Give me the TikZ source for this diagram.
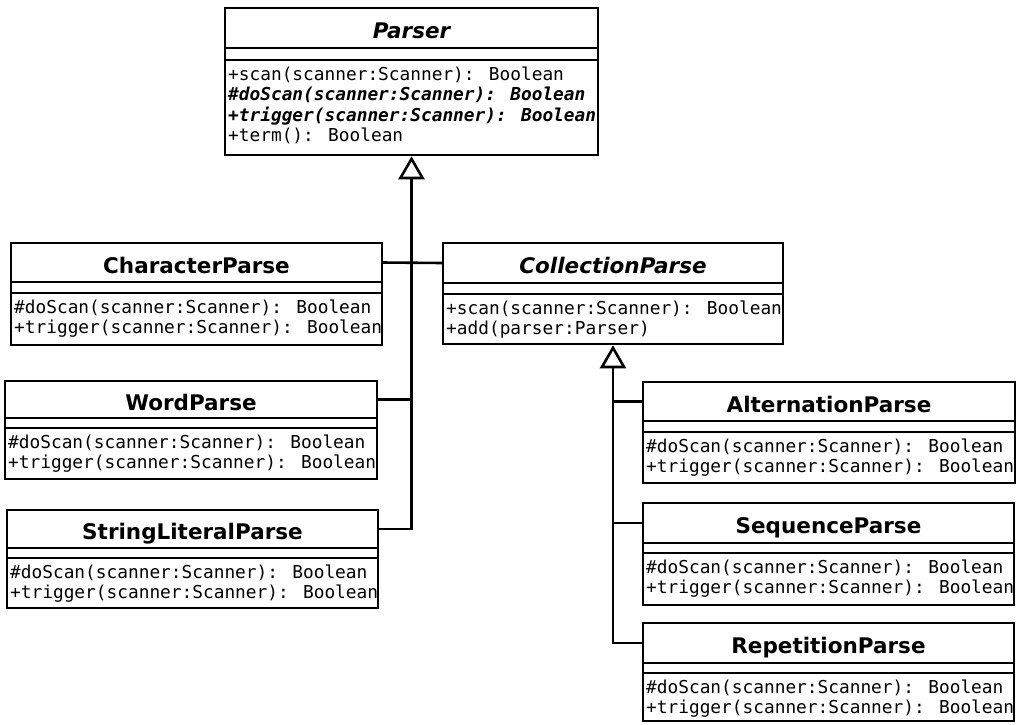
\documentclass[tikz,border=0pt]{standalone}
\usepackage{fontspec}
\usetikzlibrary{arrows.meta}
\newfontfamily\titlefont{DejaVu Sans}
\newfontfamily\memberfont{DejaVu Sans Mono}
\tikzset{
  umlbox/.style={draw, line width=2.6pt, inner sep=0pt, fill=white},
  titlebox/.style={inner sep=0pt, outer sep=0pt, text height=22pt, text depth=1pt,
    font=\titlefont\bfseries\fontsize{21.5}{24}\selectfont},
  divline/.style={line width=2.4pt},
  member/.style={anchor=base west, inner sep=0pt,
    font=\memberfont\fontsize{17.8}{20}\selectfont},
  conn/.style={line width=2.6pt},
  inh/.style={line width=2.6pt, -{Triangle[open, length=23pt, width=26pt]}},
}
\newcommand\umlclass[9]{%
  \node[umlbox, minimum width={(#4-#2)*1pt}, minimum height={(#7-#3)*1pt}] (#1)
    at ({(#2+#4)/2},{(#3+#7)/2}) {};
  \node[titlebox, minimum width={(#4-#2)*1pt}, minimum height={(#5-#3)*1pt}] (#1T)
    at ({(#2+#4)/2},{(#3+#5)/2}) {#8};
  \draw[divline] (#2,#5) -- (#4,#5) (#2,#6) -- (#4,#6);
  \foreach \m [count=\i] in {#9} {
    \node[member] (#1m\i) at ({#2+3},{#6+20+(\i-1)*20.5}) {\m};
  }
}
\begin{document}
\begin{tikzpicture}[x=1pt,y=-1pt]
\fill[white] (0,0) rectangle (1018,724);
\useasboundingbox (0,0) rectangle (1018,724);

\umlclass{parser}{225}{8}{598}{48}{60}{155}{\itshape Parser}%
  {+scan(scanner:Scanner): Boolean,{\bfseries\itshape \#doScan(scanner:Scanner): Boolean},{\bfseries\itshape +trigger(scanner:Scanner): Boolean},+term(): Boolean}

\umlclass{char}{11}{243}{382}{282}{293}{345}{CharacterParse}%
  {\#doScan(scanner:Scanner): Boolean,+trigger(scanner:Scanner): Boolean}

\umlclass{coll}{443}{243}{783}{283}{294}{344}{\itshape CollectionParse}%
  {+scan(scanner:Scanner): Boolean,+add(parser:Parser)}

\umlclass{word}{5}{381}{377}{418}{428}{479}{WordParse}%
  {\#doScan(scanner:Scanner): Boolean,+trigger(scanner:Scanner): Boolean}

\umlclass{sl}{7}{510}{378}{548}{558}{608}{StringLiteralParse}%
  {\#doScan(scanner:Scanner): Boolean,+trigger(scanner:Scanner): Boolean}

\umlclass{alt}{643}{382}{1015}{421}{432}{483}{AlternationParse}%
  {\#doScan(scanner:Scanner): Boolean,+trigger(scanner:Scanner): Boolean}

\umlclass{seq}{643}{503}{1014}{543}{553}{605}{SequenceParse}%
  {\#doScan(scanner:Scanner): Boolean,+trigger(scanner:Scanner): Boolean}

\umlclass{rep}{643}{623}{1014}{663}{673}{721}{RepetitionParse}%
  {\#doScan(scanner:Scanner): Boolean,+trigger(scanner:Scanner): Boolean}

% connectors
\draw[inh] (slT.east) -| (parser.south);
\draw[conn] (wordT.east) -- (wordT.east -| parser.south);
\draw[conn] (charT.east) -- (collT.west);
\draw[inh] (repT.west) -| (coll.south);
\draw[conn] (altT.west) -- (altT.west -| coll.south);
\draw[conn] (seqT.west) -- (seqT.west -| coll.south);
\end{tikzpicture}
\end{document}
